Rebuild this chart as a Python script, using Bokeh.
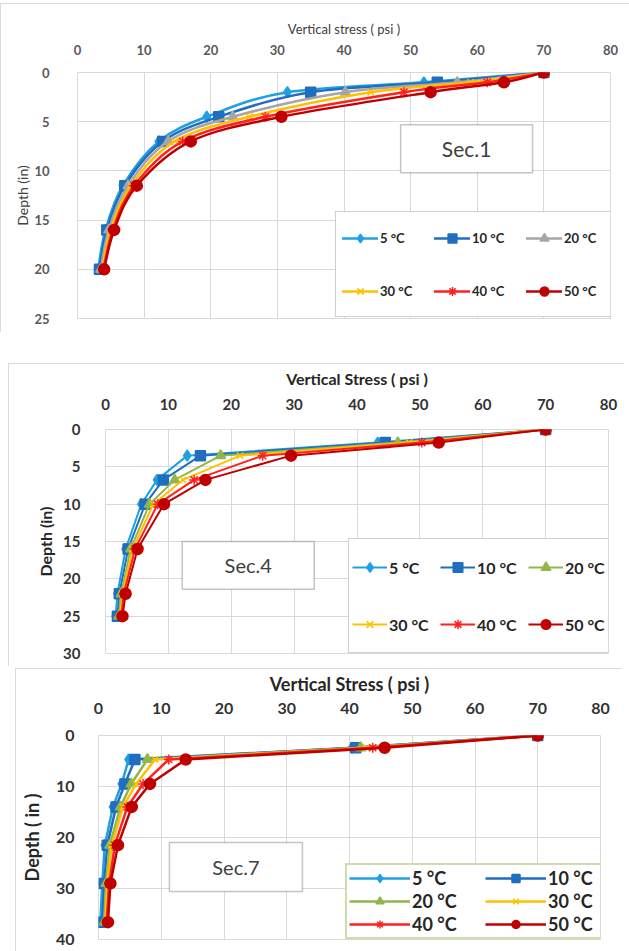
import numpy as np
from bokeh.plotting import figure
from bokeh.layouts import column, row, Spacer
from bokeh.models import Range1d, Legend, LegendItem, Label, BoxAnnotation, SingleIntervalTicker
from bokeh.embed import file_html
from bokeh.resources import INLINE

# ---------------- data ----------------
TEMP_LABELS = ["5 °C", "10 °C", "20 °C", "30 °C", "40 °C", "50 °C"]

SEC1_DEPTH = [0, 1, 2, 4.5, 7, 11.5, 16, 20]
SEC1_5C = [70, 52.0, 31.5, 19.4, 12.2, 6.8, 4.2, 3.1]
SEC1_10C = [70, 54.0, 35.0, 21.2, 12.8, 7.1, 4.4, 3.3]
SEC1_20C = [70, 57.0, 40.2, 23.3, 13.6, 7.6, 4.7, 3.5]
SEC1_30C = [70, 59.0, 44.0, 25.8, 14.6, 8.0, 5.0, 3.7]
SEC1_40C = [70, 61.5, 49.0, 28.2, 15.8, 8.5, 5.3, 3.9]
SEC1_50C = [70, 64.0, 53.0, 30.6, 17.0, 8.9, 5.5, 4.0]

SEC4_DEPTH = [0, 1.75, 3.5, 6.75, 10, 16, 22, 25]
SEC4_5C = [70, 43.3, 13.0, 8.2, 5.7, 3.2, 1.9, 1.6]
SEC4_10C = [70, 44.5, 15.1, 9.2, 6.3, 3.6, 2.2, 1.9]
SEC4_20C = [70, 46.5, 18.3, 11.0, 7.0, 4.0, 2.5, 2.1]
SEC4_30C = [70, 48.3, 21.4, 12.3, 7.6, 4.3, 2.7, 2.3]
SEC4_40C = [70, 50.3, 25.0, 14.1, 8.3, 4.7, 2.9, 2.5]
SEC4_50C = [70, 53.0, 29.5, 15.9, 9.3, 5.1, 3.2, 2.7]

SEC7_DEPTH = [0, 2.4, 4.7, 9.5, 14, 21.5, 29, 36.6]
SEC7_5C = [70, 40.4, 4.8, 3.7, 2.3, 1.0, 0.6, 0.3]
SEC7_10C = [70, 41.0, 5.8, 4.2, 2.8, 1.4, 0.9, 0.6]
SEC7_20C = [70, 41.8, 7.8, 5.2, 3.5, 1.8, 1.2, 0.9]
SEC7_30C = [70, 42.7, 9.0, 6.0, 3.9, 2.1, 1.4, 1.1]
SEC7_40C = [70, 43.7, 11.2, 7.1, 4.6, 2.6, 1.7, 1.3]
SEC7_50C = [70, 45.6, 13.9, 8.2, 5.3, 3.1, 1.9, 1.5]

# ---------------- styles ----------------
FONT = "Lato"
MARKERS = ["diamond", "square", "triangle", "x", "asterisk", "circle"]
MSIZES = [11, 10, 10, 9, 10, 11]
BLUE_L = "#1fa0e2"
BLUE_D = "#1f6ec0"
GRAY = "#a6a6a6"
GREEN = "#92b64a"
GOLD = "#ffc000"
RED = "#ff2020"
DRED = "#c00000"
COLORS_1 = [BLUE_L, BLUE_D, GRAY, GOLD, RED, DRED]
COLORS_47 = [BLUE_L, BLUE_D, GREEN, GOLD, RED, DRED]
GRID = "#d9d9d9"
FRAME_STYLE = {"outline": "1px solid #d0d0d0", "outline-offset": "-1px"}


def smooth_segments(xs, ys):
    x = np.asarray(xs, float)
    y = np.asarray(ys, float)
    n = len(x)
    xp = np.concatenate([[x[0]], x, [x[-1]]])
    yp = np.concatenate([[y[0]], y, [y[-1]]])
    return dict(
        x0=x[:-1], y0=y[:-1], x1=x[1:], y1=y[1:],
        cx0=x[:-1] + (xp[2:n + 1] - xp[0:n - 1]) / 6.0,
        cy0=y[:-1] + (yp[2:n + 1] - yp[0:n - 1]) / 6.0,
        cx1=x[1:] - (xp[3:n + 2] - xp[1:n]) / 6.0,
        cy1=y[1:] - (yp[3:n + 2] - yp[1:n]) / 6.0,
    )


def base_fig(width, height, ymax, ystep, top, bottom, left, right):
    p = figure(width=width, height=height, x_range=Range1d(0, 80), y_range=Range1d(ymax, 0),
               x_axis_location="above", output_backend="svg", toolbar_location=None,
               min_border_top=top, min_border_bottom=bottom, min_border_left=left,
               min_border_right=right, styles=FRAME_STYLE)
    p.xaxis.ticker = SingleIntervalTicker(interval=10)
    p.yaxis.ticker = SingleIntervalTicker(interval=ystep)
    for ax in (p.xaxis, p.yaxis):
        ax.axis_line_color = None
        ax.major_tick_line_color = None
        ax.minor_tick_line_color = None
        ax.major_label_text_font = FONT
        ax.axis_label_text_font = FONT
    p.xgrid.grid_line_color = GRID
    p.ygrid.grid_line_color = GRID
    p.outline_line_color = GRID
    p.background_fill_color = "white"
    p.border_fill_color = "white"
    return p


def style_axes(p, tick_size, tick_style, tick_color, title_size, title_style, title_color,
               xt, xl, yt, yl, xtitle, ytitle):
    p.xaxis.axis_label = xtitle
    p.yaxis.axis_label = ytitle
    for ax in (p.xaxis, p.yaxis):
        ax.major_label_text_font_size = tick_size
        ax.major_label_text_font_style = tick_style
        ax.major_label_text_color = tick_color
        ax.axis_label_text_font_size = title_size
        ax.axis_label_text_font_style = title_style
        ax.axis_label_text_color = title_color
    p.xaxis.major_label_standoff = xt
    p.xaxis.axis_label_standoff = xl
    p.yaxis.major_label_standoff = yt
    p.yaxis.axis_label_standoff = yl


def draw_series(p, depth, series, colors, lw, smooth):
    items = []
    for lab, vals, col, mk, ms in zip(TEMP_LABELS, series, colors, MARKERS, MSIZES):
        if smooth:
            r_line = p.bezier(line_color=col, line_width=lw, line_cap="round",
                              **smooth_segments(vals, depth))
        else:
            r_line = p.line(vals, depth, line_color=col, line_width=lw, line_join="round")
        r_pts = p.scatter(vals, depth, marker=mk, size=ms, fill_color=col, line_color=col,
                          line_width=1.5)
        items.append(LegendItem(label=lab, renderers=[r_line, r_pts]))
    return items


def sec_box(p, left, right, top, bottom, text, size):
    p.add_layout(BoxAnnotation(left=left, right=right, top=top, bottom=bottom,
                               fill_color="white", fill_alpha=1.0,
                               line_color="#404040", line_width=1.5))
    p.add_layout(Label(x=(left + right) / 2, y=(top + bottom) / 2, text=text,
                       text_align="center", text_baseline="middle", text_font=FONT,
                       text_font_size=size, text_color="#404040"))


# ---------------- panel 1 ----------------
p1 = base_fig(629, 329, 25, 5, 69, 14, 77, 19)
style_axes(p1, "13px", "bold", "#595959", "13px", "normal", "#404040",
           12, 5, 22, 7, "Vertical stress ( psi )", "Depth (in)")
p1.yaxis.axis_label_text_font_size = "14px"
p1.yaxis.axis_label_standoff = 0
items1 = draw_series(p1, SEC1_DEPTH, [SEC1_5C, SEC1_10C, SEC1_20C, SEC1_30C, SEC1_40C, SEC1_50C],
                     COLORS_1, 2.5, True)
sec_box(p1, 48.5, 68.3, 5.3, 10.2, "Sec.1", "21px")
leg1 = Legend(items=items1, location=(258, 1), orientation="horizontal", ncols=3,
              padding=6, spacing=14, margin=0, glyph_width=36, glyph_height=22,
              label_height=39, label_width=40, label_standoff=2,
              label_text_font=FONT, label_text_font_size="13px", label_text_font_style="bold",
              label_text_color="#262626", border_line_color="#a0a0a0", border_line_width=1.5,
              background_fill_color="white", background_fill_alpha=1.0)
p1.add_layout(leg1, "center")

# ---------------- panel 2 ----------------
p2 = base_fig(616, 303, 30, 5, 66, 13, 97, 16)
style_axes(p2, "15px", "bold", "#333333", "16px", "bold", "#262626",
           14, 8, 19, 5, "Vertical Stress ( psi )", "Depth (in)")
items2 = draw_series(p2, SEC4_DEPTH, [SEC4_5C, SEC4_10C, SEC4_20C, SEC4_30C, SEC4_40C, SEC4_50C],
                     COLORS_47, 2.0, False)
sec_box(p2, 12.2, 33.2, 15.0, 21.4, "Sec.4", "20px")
leg2 = Legend(items=items2, location=(243, 0), orientation="horizontal", ncols=3,
              padding=3, spacing=7, margin=0, glyph_width=35, glyph_height=24,
              label_height=50, label_width=44, label_standoff=2,
              label_text_font=FONT, label_text_font_size="16px", label_text_font_style="bold",
              label_text_color="#262626", border_line_color="#a0a0a0", border_line_width=1.5,
              background_fill_color="white", background_fill_alpha=1.0)
p2.add_layout(leg2, "center")

# ---------------- panel 3 ----------------
p3 = base_fig(606, 283, 40, 10, 67, 12, 83, 21)
style_axes(p3, "16px", "bold", "#333333", "18px", "bold", "#262626",
           16, 5, 18, 10, "Vertical Stress ( psi )", "Depth ( in )")
items3 = draw_series(p3, SEC7_DEPTH, [SEC7_5C, SEC7_10C, SEC7_20C, SEC7_30C, SEC7_40C, SEC7_50C],
                     COLORS_47, 2.5, False)
sec_box(p3, 11.3, 32.5, 21.0, 30.6, "Sec.7", "20px")
leg3 = Legend(items=items3, location=(247, 0), orientation="horizontal", ncols=2,
              padding=2, spacing=1, margin=0, glyph_width=61, glyph_height=20,
              label_height=20, label_width=72, label_standoff=2,
              label_text_font=FONT, label_text_font_size="18px", label_text_font_style="bold",
              label_text_color="#262626", border_line_color="#9bbb59", border_line_width=2,
              background_fill_color="white", background_fill_alpha=1.0)
p3.add_layout(leg3, "center")

layout = column(
    Spacer(width=629, height=3),
    row(p1),
    Spacer(width=629, height=31),
    row(Spacer(width=8, height=303), p2),
    Spacer(width=629, height=2),
    row(Spacer(width=15, height=283), p3),
    spacing=0,
)
open("out.html", "w").write(file_html(layout, INLINE))
